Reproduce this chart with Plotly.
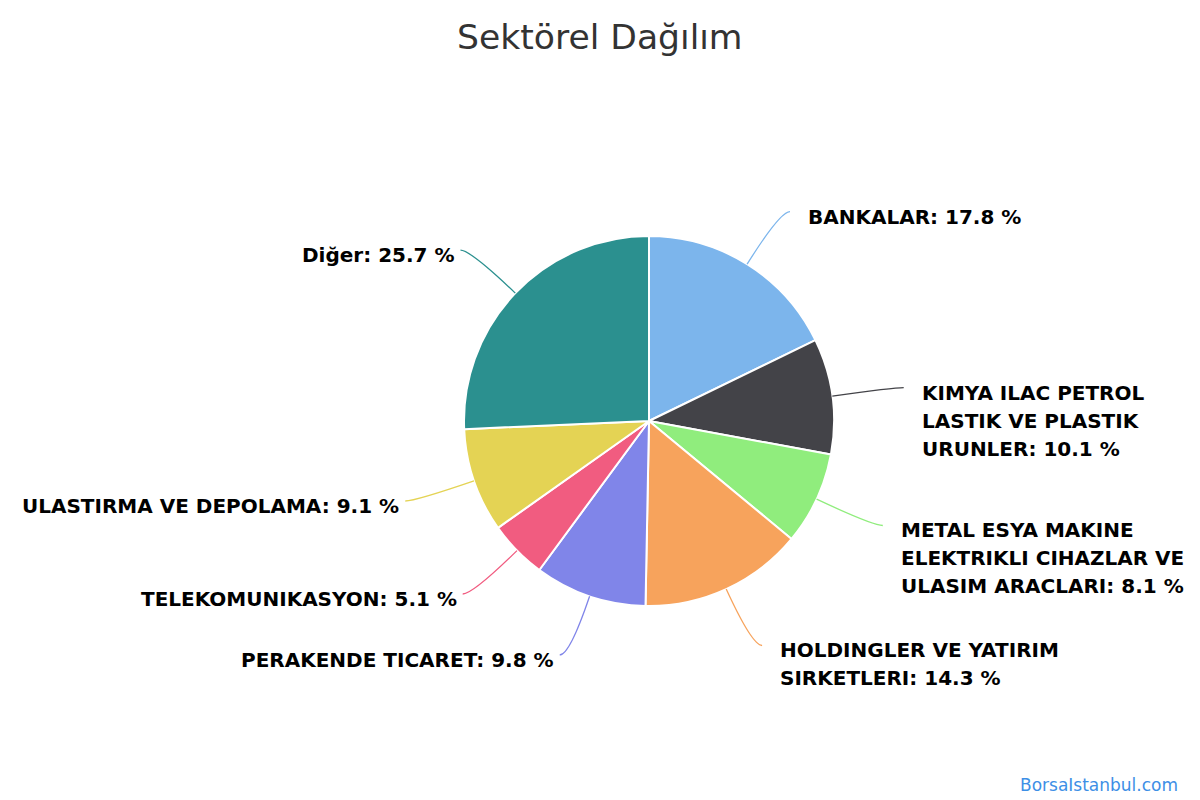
import math
import plotly.graph_objects as go

# sector shares (%), clockwise from 12 o'clock
sectors = [
    "BANKALAR",
    "KIMYA ILAC PETROL\nLASTIK VE PLASTIK\nURUNLER",
    "METAL ESYA MAKINE\nELEKTRIKLI CIHAZLAR VE\nULASIM ARACLARI",
    "HOLDINGLER VE YATIRIM\nSIRKETLERI",
    "PERAKENDE TICARET",
    "TELEKOMUNIKASYON",
    "ULASTIRMA VE DEPOLAMA",
    "Diğer",
]
shares = [17.8, 10.1, 8.1, 14.3, 9.8, 5.1, 9.1, 25.7]
colors = ["#7cb5ec", "#434348", "#90ed7d", "#f7a35c",
          "#8085e9", "#f15c80", "#e4d354", "#2b908f"]

W, H = 1200, 800
cx, cy, r = 649, 421, 185      # pie centre / radius in pixels
dist = 62                      # label distance from the edge
line_h = 28

fig = go.Figure()
fig.add_trace(go.Pie(
    labels=[s.replace("\n", " ") for s in sectors],
    values=shares,
    marker=dict(colors=colors, line=dict(color="white", width=2)),
    sort=False,
    direction="clockwise",
    rotation=0,
    textinfo="none",
    hoverinfo="label+percent",
    showlegend=False,
    domain=dict(x=[(cx - r) / W, (cx + r) / W], y=[1 - (cy + r) / H, 1 - (cy - r) / H]),
))

# pixel-space helper axes for connectors and labels
fig.add_trace(go.Scatter(x=[0, W], y=[0, H], mode="markers",
                         marker=dict(opacity=0), hoverinfo="skip", showlegend=False))

shapes, annotations = [], []
total = sum(shares)
cum = 0
for name, val, col in zip(sectors, shares, colors):
    mid = (cum + val / 2) / total * 2 * math.pi
    cum += val
    sx, sy = math.sin(mid), -math.cos(mid)
    side = 1 if sx >= 0 else -1
    x0, y0 = cx + r * sx, cy + r * sy
    qx, qy = cx + (r + dist) * sx, cy + (r + dist) * sy
    ex, ey = qx + 10 * side, qy
    shapes.append(dict(type="path", xref="x", yref="y",
                       path=f"M {x0:.1f} {y0:.1f} Q {qx:.1f} {qy:.1f} {ex:.1f} {ey:.1f}",
                       line=dict(color=col, width=1.3)))
    lines = name.split("\n")
    lines[-1] += f": {val:.1f} %"
    gap = 16 if side > 0 else 4
    for i, txt in enumerate(lines):
        annotations.append(dict(
            x=ex + gap * side, y=ey + 5 + i * line_h, xref="x", yref="y",
            text=f"<b>{txt}</b>", showarrow=False,
            xanchor="left" if side > 0 else "right", yanchor="middle",
            font=dict(family="DejaVu Sans", size=20, color="#000000"),
        ))

annotations.append(dict(
    x=0.5, y=1 - 37 / H, xref="paper", yref="paper", text="Sektörel Dağılım",
    showarrow=False, xanchor="center", yanchor="middle",
    font=dict(family="DejaVu Sans", size=34.6, color="#333333"),
))
annotations.append(dict(
    x=1 - 20 / W, y=1 - 785 / H, xref="paper", yref="paper", text="BorsaIstanbul.com",
    showarrow=False, xanchor="right", yanchor="middle",
    font=dict(family="DejaVu Sans", size=17, color="#3d8fe6"),
))

fig.update_layout(
    width=W, height=H,
    margin=dict(l=0, r=0, t=0, b=0),
    paper_bgcolor="white", plot_bgcolor="white",
    xaxis=dict(range=[0, W], visible=False, fixedrange=True),
    yaxis=dict(range=[H, 0], visible=False, fixedrange=True),
    shapes=shapes,
    annotations=annotations,
)

fig.write_html("out.html", config={"displayModeBar": False},
               post_script="document.body.style.margin='0px';")
